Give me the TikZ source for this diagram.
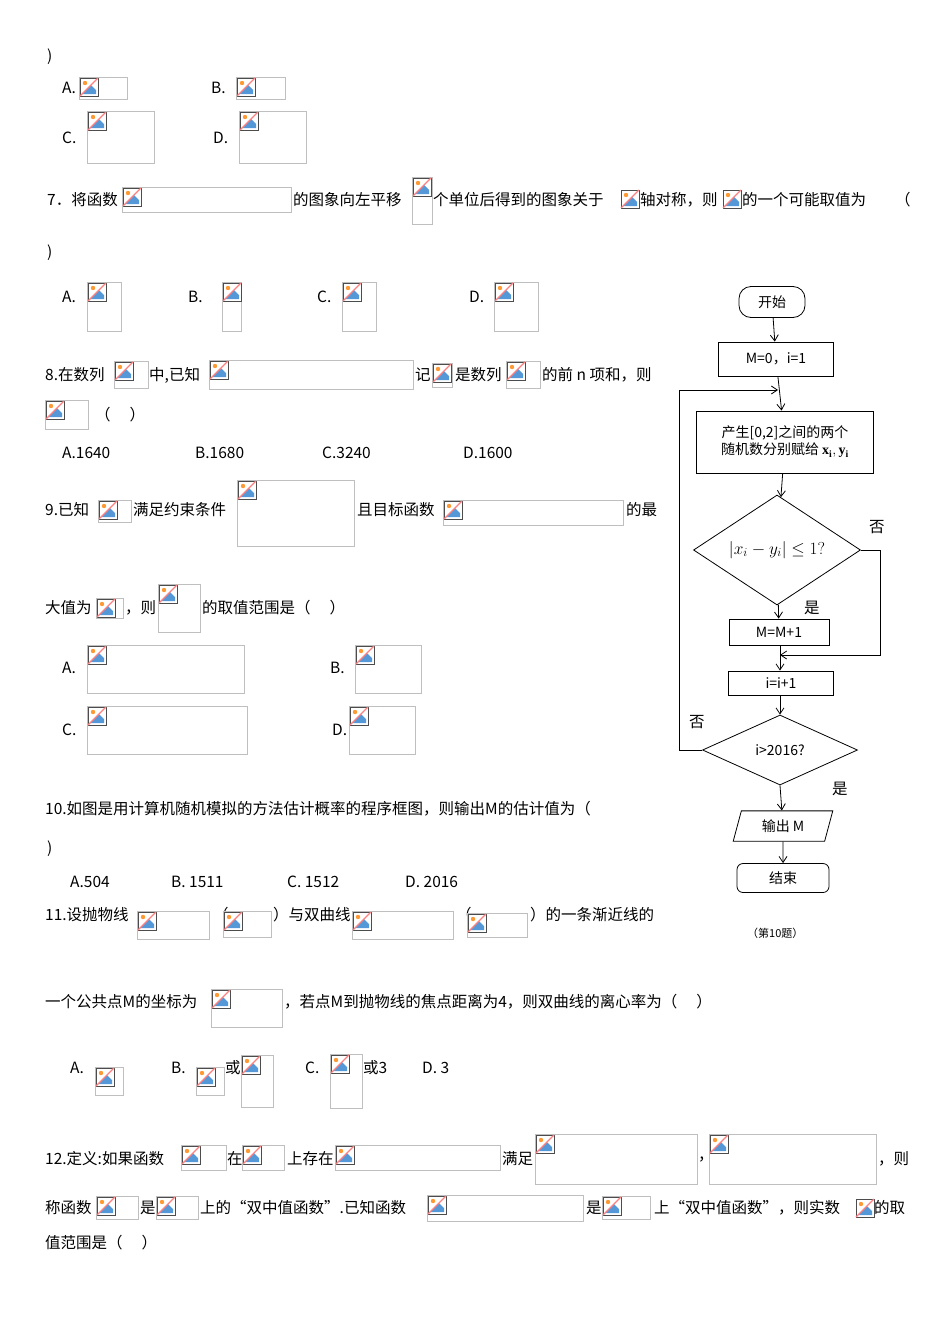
\documentclass[tikz,border=0pt]{standalone}
\usepackage{fontspec}
\setmainfont{Liberation Serif}
\newfontfamily\cjk{Noto Sans CJK SC}
\usetikzlibrary{shapes.geometric,arrows.meta}
\newcommand\ic[2]{\begin{scope}[shift={(#1,#2)}]
 \draw[fill=white,draw=black!70] (0,0) rectangle (18,18);
 \fill[cyan!60!blue!70] (2,16)--(11,7)--(16,12)--(16,16)--cycle;
 \fill[orange!80] (5,5) circle (2.2);
 \draw[red!50,line width=1.2pt] (0,18)--(18,0);
 \end{scope}}
\newcommand\ph[4]{\draw[black!25] (#1,#2) rectangle ++(#3,#4); \ic{#1+1}{#2+1}}
\tikzset{t/.style={anchor=west,inner sep=0,font=\cjk\fontsize{15.5}{18}\selectfont},
 fb/.style={draw,thick,font=\cjk\fontsize{14}{17}\selectfont,inner sep=2pt},
 ar/.style={thick,-{Straight Barb[length=6pt,width=8pt]}}}
\begin{document}
\begin{tikzpicture}[x=1pt,y=-1pt]
\useasboundingbox[fill=white] (0,0) rectangle (950,1344);
\node[t] (l0) at (47,57) {)};
\node[t] (a6) at (62,88) {A.}; \ph{79}{77}{48}{22}
\node[t] (b6) at (211,88) {B.}; \ph{236}{77}{49}{22}
\node[t] (c6) at (62,138) {C.}; \ph{87}{111}{67}{52}
\node[t] (d6) at (213,138) {D.}; \ph{239}{111}{67}{52}
% 7
\node[t] (q7a) at (47,200) {7．将函数}; \ph{122}{187}{169}{25}
\node[t] (q7b) at (293,200) {的图象向左平移}; \ph{412}{177}{20}{47}
\node[t] (q7c) at (433,200) {个单位后得到的图象关于}; \ic{621}{190}
\node[t] (q7d) at (640,200) {轴对称，则}; \ic{723}{190}
\node[t] (q7e) at (742,200) {的一个可能取值为};
\node[t] (q7f) at (895,200) {（};
\node[t] (q7g) at (47,253) {)};
\node[t] (a7) at (62,297) {A.}; \ph{87}{282}{34}{49}
\node[t] (b7) at (188,297) {B.}; \ph{222}{282}{19}{49}
\node[t] (c7) at (317,297) {C.}; \ph{342}{282}{34}{49}
\node[t] (d7) at (469,297) {D.}; \ph{494}{282}{44}{49}
% 8
\node[t] (q8a) at (45,375) {8.在数列}; \ph{114}{361}{34}{27}
\node[t] (q8b) at (149,375) {中,已知}; \ph{209}{360}{204}{29}
\node[t] (q8c) at (415,375) {记}; \ph{432}{363}{20}{24}
\node[t] (q8d) at (455,375) {是数列}; \ph{506}{361}{34}{27}
\node[t] (q8e) at (542,375) {的前 n 项和，则};
\ph{45}{400}{43}{29}
\node[t] (q8f) at (95,415) {（\quad\ ）};
\node[t] (a8) at (62,453) {A.1640};
\node[t] (b8) at (195,453) {B.1680};
\node[t] (c8) at (322,453) {C.3240};
\node[t] (d8) at (463,453) {D.1600};
% 9
\node[t] (q9a) at (45,510) {9.已知}; \ph{98}{500}{33}{22}
\node[t] (q9b) at (133,510) {满足约束条件}; \ph{237}{480}{117}{66}
\node[t] (q9c) at (357,510) {且目标函数}; \ph{443}{500}{180}{25}
\node[t] (q9d) at (626,510) {的最};
\node[t] (q9e) at (45,608) {大值为}; \ph{96}{598}{27}{20}
\node[t] (q9f) at (125,608) {，则}; \ph{158}{584}{42}{48}
\node[t] (q9g) at (202,608) {的取值范围是（\quad\ ）};
\node[t] (a9) at (62,668) {A.}; \ph{87}{645}{157}{48}
\node[t] (b9) at (330,668) {B.}; \ph{355}{645}{66}{48}
\node[t] (c9) at (62,730) {C.}; \ph{87}{706}{160}{48}
\node[t] (d9) at (332,730) {D.}; \ph{349}{706}{66}{48}
% 10
\node[t] (q10) at (45,809) {10.如图是用计算机随机模拟的方法估计概率的程序框图，则输出M的估计值为（};
\node[t] (q10b) at (47,849) {)};
\node[t] (a10) at (70,882) {A.504};
\node[t] (b10) at (171,882) {B.\ 1511};
\node[t] (c10) at (287,882) {C.\ 1512};
\node[t] (d10) at (405,882) {D.\ 2016};
% 11
\node[t] (q11a) at (45,915) {11.设抛物线}; \ph{137}{911}{72}{28}
\node[t] (q11b) at (213,915) {（}; \ph{223}{911}{48}{26}
\node[t] (q11c) at (273,915) {）与双曲线}; \ph{352}{911}{101}{28}
\node[t] (q11d) at (456,915) {（}; \ph{467}{913}{60}{24}
\node[t] (q11e) at (530,915) {）的一条渐近线的};
\node[t] (q11f) at (45,1002) {一个公共点M的坐标为}; \ph{211}{989}{71}{38}
\node[t] (q11g) at (284,1002) {，若点M到抛物线的焦点距离为4，则双曲线的离心率为（\quad\ ）};
\node[t] (a11) at (70,1068) {A.}; \ph{95}{1067}{28}{28}
\node[t] (b11) at (171,1068) {B.}; \ph{196}{1067}{28}{28}
\node[t] (b11b) at (225,1068) {或}; \ph{241}{1055}{32}{52}
\node[t] (c11) at (305,1068) {C.}; \ph{330}{1054}{32}{54}
\node[t] (c11b) at (363,1068) {或3};
\node[t] (d11) at (422,1068) {D.\ 3};
% 12
\node[t] (q12a) at (45,1159) {12.定义:如果函数}; \ph{181}{1145}{45}{25}
\node[t] (q12b) at (227,1159) {在}; \ph{242}{1145}{42}{25}
\node[t] (q12c) at (287,1159) {上存在}; \ph{335}{1145}{165}{25}
\node[t] (q12d) at (502,1159) {满足}; \ph{535}{1134}{162}{50}
\node[t] (q12e) at (698,1159) {，}; \ph{709}{1134}{167}{50}
\node[t] (q12f) at (878,1159) {，则};
\node[t] (q12g) at (45,1208) {称函数}; \ph{96}{1196}{42}{23}
\node[t] (q12h) at (140,1208) {是}; \ph{156}{1196}{42}{23}
\node[t] (q12i) at (200,1208) {上的“双中值函数”.已知函数}; \ph{427}{1195}{156}{26}
\node[t] (q12j) at (586,1208) {是}; \ph{602}{1196}{48}{23}
\node[t] (q12k) at (654,1208) {上“双中值函数”，则实数}; \ic{856}{1199}
\node[t] (q12l) at (874,1208) {的取};
\node[t] (q12m) at (45,1243) {值范围是（\quad\ ）};
% flowchart
\node[fb,rounded corners=12pt,minimum width=66,minimum height=31] (st) at (772,302) {开始};
\node[fb,minimum width=115,minimum height=34] (init) at (776,359) {M=0，i=1};
\node[fb,minimum width=177,minimum height=62,align=center] (gen) at (785,442) {产生[0,2]之间的两个\\随机数分别赋给 $\mathbf{x_i,y_i}$};
\node[fb,diamond,aspect=1.5,minimum width=167,minimum height=110,inner sep=0,font=\fontsize{17}{19}\selectfont] (d1) at (777,550) {$|x_i-y_i|\le1?$};
\node[fb,minimum width=100,minimum height=26] (inc) at (779,632) {M=M+1};
\node[fb,minimum width=105,minimum height=24] (ii) at (781,683) {i=i+1};
\node[fb,diamond,aspect=2.2,minimum width=155,minimum height=70,inner sep=0] (d2) at (780,750) {i>2016?};
\node[fb,trapezium,trapezium left angle=75,trapezium right angle=105,minimum width=100,minimum height=30] (out) at (783,826) {输出 M};
\node[fb,rounded corners=6pt,minimum width=92,minimum height=29] (en) at (783,878) {结束};
\node[t,font=\cjk\fontsize{11}{13}\selectfont] (cap) at (747,933) {（第10题）};
\node[t] (n1) at (869,527) {否};
\node[t] (n2) at (689,722) {否};
\node[t] (y1) at (804,608) {是};
\node[t] (y2) at (832,789) {是};
\coordinate (j1) at (778,390);
\coordinate (j2) at (780,655);
\draw[ar] (st) -- (init);
\draw[ar] (init) -- (gen);
\draw[ar] (gen) -- (d1);
\draw[ar] (d1) -- (inc);
\draw[ar] (inc.south -| j2) -- (ii.north -| j2);
\draw[ar] (ii.south -| d2.north) -- (d2);
\draw[ar] (d2.south) -- (out);
\draw[ar] (out) -- (en);
\draw[ar] (d1.east) -- ++(19,0) |- (j2);
\draw[ar] (d2.west) -- (679,750) |- (j1);
\end{tikzpicture}
\end{document}
